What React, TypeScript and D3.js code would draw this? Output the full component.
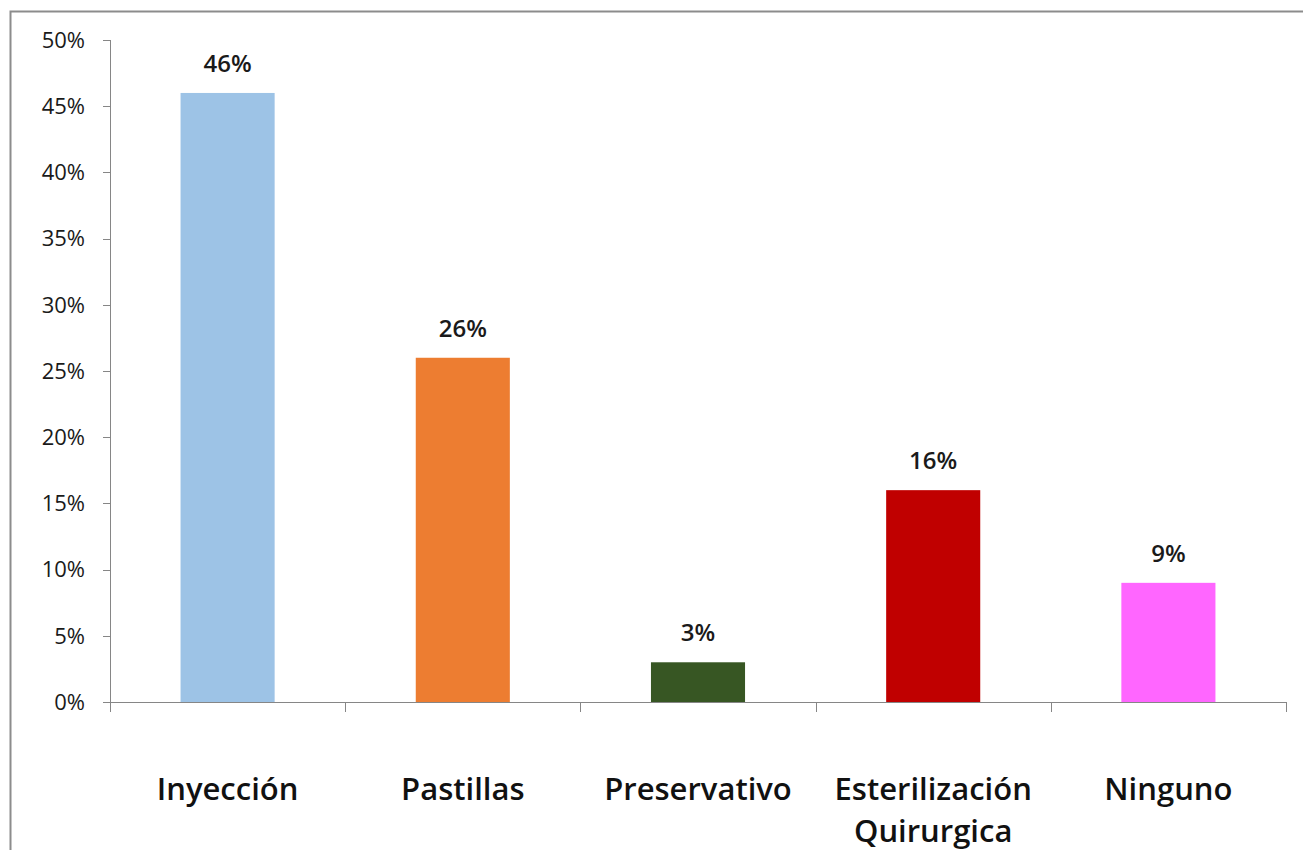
import * as React from 'react';
import * as d3 from 'd3';

const categories = ['Inyección', 'Pastillas', 'Preservativo', 'Esterilización Quirurgica', 'Ninguno'];
const values = [0.46, 0.26, 0.03, 0.16, 0.09];
const colors = ['#9dc3e6', '#ed7d31', '#375623', '#c00000', '#ff66ff'];
const yTicks = [0, 0.05, 0.1, 0.15, 0.2, 0.25, 0.3, 0.35, 0.4, 0.45, 0.5];

const font = "'Open Sans', 'Noto Sans', sans-serif";

export default function App() {
  const width = 1303;
  const height = 850;
  const margin = { top: 40, right: 17, bottom: 148, left: 110 };

  const x = d3
    .scaleBand()
    .domain(categories)
    .range([margin.left, width - margin.right])
    .paddingInner(0.6)
    .paddingOuter(0.3);
  const y = d3
    .scaleLinear()
    .domain([0, 0.5])
    .range([height - margin.bottom, margin.top]);

  const step = x.step();
  const bounds = categories.map(c => (x(c) as number) - (step - x.bandwidth()) / 2);
  bounds.push(width - margin.right);
  const pct = d3.format('.0%');
  const y0 = y(0);

  return (
    <svg
      width={width}
      height={height}
      style={{ position: 'absolute', left: 0, top: 0, background: '#fff' }}
    >
      {/* outer frame */}
      <path d={`M10.5,${height} V11.5 H${width}`} fill="none" stroke="#8c8c8c" strokeWidth={2} />

      {/* bars */}
      {categories.map((c, i) => (
        <rect
          key={c}
          x={x(c)}
          y={y(values[i])}
          width={x.bandwidth()}
          height={y0 - y(values[i])}
          fill={colors[i]}
        />
      ))}

      {/* data labels */}
      {categories.map((c, i) => (
        <text
          key={c}
          x={(x(c) as number) + x.bandwidth() / 2}
          y={y(values[i]) - 21}
          textAnchor="middle"
          fontFamily={font}
          fontWeight={600}
          fontSize={24}
          fill="#1a1a1a"
        >
          {pct(values[i])}
        </text>
      ))}

      {/* y axis */}
      <line x1={margin.left + 0.5} x2={margin.left + 0.5} y1={margin.top} y2={y0 + 10} stroke="#868686" />
      {yTicks.map(t => (
        <g key={t}>
          <line
            x1={margin.left - 7}
            x2={margin.left}
            y1={Math.round(y(t)) + 0.5}
            y2={Math.round(y(t)) + 0.5}
            stroke="#868686"
          />
          <text
            x={margin.left - 25}
            y={y(t)}
            dy="0.35em"
            textAnchor="end"
            fontFamily={font}
            fontSize={22}
            fill="#1a1a1a"
          >
            {pct(t)}
          </text>
        </g>
      ))}

      {/* x axis */}
      <line x1={margin.left} x2={width - margin.right} y1={Math.round(y0) + 0.5} y2={Math.round(y0) + 0.5} stroke="#868686" />
      {bounds.map((b, i) => (
        <line key={i} x1={Math.round(b) + 0.5} x2={Math.round(b) + 0.5} y1={y0} y2={y0 + 10} stroke="#868686" />
      ))}
      {categories.map(c => {
        const words = c === 'Esterilización Quirurgica' ? ['Esterilización', 'Quirurgica'] : [c];
        return (
          <text
            key={c}
            x={(x(c) as number) + x.bandwidth() / 2}
            y={y0 + 98}
            textAnchor="middle"
            fontFamily={font}
            fontWeight={600}
            fontSize={31}
            fill="#111"
          >
            {words.map((w, j) => (
              <tspan key={w} x={(x(c) as number) + x.bandwidth() / 2} dy={j === 0 ? 0 : 42}>
                {w}
              </tspan>
            ))}
          </text>
        );
      })}
    </svg>
  );
}
